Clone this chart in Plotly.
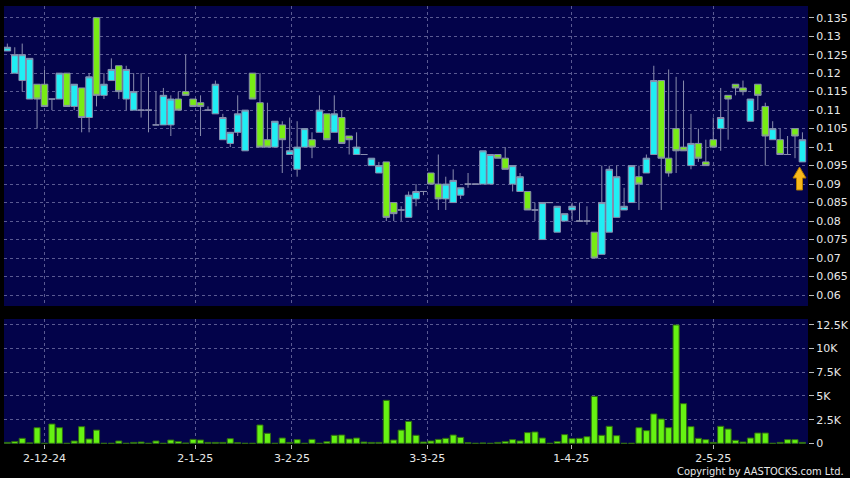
import plotly.graph_objects as go

# ---------------- data ----------------
open_ = [0.126, 0.120, 0.118, 0.113, 0.117, 0.117, 0.113, 0.113, 0.120, 0.111,
         0.116, 0.108, 0.135, 0.114, 0.118, 0.122, 0.113, 0.110, 0.110, 0.110,
         0.106, 0.106, 0.106, 0.113, 0.115, 0.113, 0.112, 0.110, 0.109, 0.102,
         0.101, 0.104, 0.099, 0.120, 0.112, 0.102, 0.100, 0.106, 0.098, 0.094,
         0.100, 0.102, 0.104, 0.109, 0.104, 0.108, 0.103, 0.098, 0.098, 0.095,
         0.093, 0.096, 0.085, 0.083, 0.081, 0.086, 0.088, 0.093, 0.090, 0.086,
         0.085, 0.087, 0.090, 0.090, 0.090, 0.090, 0.098, 0.097, 0.090, 0.088,
         0.088, 0.083, 0.075, 0.085, 0.077, 0.080, 0.083, 0.080, 0.080, 0.077,
         0.071, 0.077, 0.081, 0.083, 0.085, 0.092, 0.093, 0.098, 0.118, 0.097,
         0.105, 0.100, 0.095, 0.101, 0.096, 0.102, 0.105, 0.114, 0.117, 0.116,
         0.107, 0.117, 0.111, 0.102, 0.102, 0.098, 0.105, 0.096]
high = [0.128, 0.127, 0.128, 0.124, 0.117, 0.121, 0.113, 0.120, 0.120, 0.117,
        0.116, 0.120, 0.135, 0.120, 0.124, 0.122, 0.122, 0.120, 0.120, 0.119,
        0.115, 0.116, 0.114, 0.115, 0.125, 0.113, 0.114, 0.111, 0.118, 0.109,
        0.104, 0.114, 0.110, 0.120, 0.120, 0.112, 0.107, 0.107, 0.108, 0.107,
        0.105, 0.104, 0.114, 0.109, 0.114, 0.110, 0.103, 0.104, 0.098, 0.097,
        0.096, 0.096, 0.085, 0.084, 0.088, 0.090, 0.088, 0.093, 0.098, 0.092,
        0.094, 0.089, 0.093, 0.090, 0.099, 0.098, 0.098, 0.100, 0.095, 0.093,
        0.088, 0.085, 0.085, 0.085, 0.084, 0.082, 0.085, 0.085, 0.084, 0.077,
        0.095, 0.095, 0.095, 0.089, 0.095, 0.095, 0.098, 0.122, 0.118, 0.121,
        0.119, 0.118, 0.109, 0.105, 0.102, 0.108, 0.116, 0.114, 0.117, 0.118,
        0.113, 0.117, 0.112, 0.107, 0.105, 0.103, 0.105, 0.104]
low = [0.126, 0.120, 0.115, 0.113, 0.105, 0.111, 0.110, 0.113, 0.111, 0.110,
       0.104, 0.104, 0.111, 0.113, 0.118, 0.113, 0.110, 0.110, 0.108, 0.104,
       0.106, 0.106, 0.103, 0.110, 0.114, 0.111, 0.103, 0.110, 0.109, 0.102,
       0.100, 0.103, 0.099, 0.113, 0.100, 0.100, 0.100, 0.093, 0.098, 0.092,
       0.100, 0.097, 0.104, 0.102, 0.104, 0.101, 0.098, 0.098, 0.098, 0.095,
       0.093, 0.080, 0.080, 0.080, 0.081, 0.084, 0.087, 0.090, 0.083, 0.083,
       0.085, 0.086, 0.089, 0.090, 0.090, 0.090, 0.097, 0.094, 0.088, 0.088,
       0.083, 0.080, 0.075, 0.085, 0.077, 0.080, 0.080, 0.080, 0.079, 0.070,
       0.071, 0.077, 0.081, 0.083, 0.085, 0.083, 0.093, 0.098, 0.083, 0.092,
       0.093, 0.099, 0.094, 0.096, 0.095, 0.100, 0.099, 0.102, 0.114, 0.114,
       0.107, 0.110, 0.095, 0.102, 0.098, 0.098, 0.097, 0.096]
close = [0.127, 0.125, 0.125, 0.124, 0.113, 0.111, 0.113, 0.120, 0.111, 0.117,
         0.108, 0.119, 0.114, 0.117, 0.121, 0.115, 0.121, 0.115, 0.110, 0.110,
         0.106, 0.114, 0.113, 0.110, 0.114, 0.111, 0.111, 0.110, 0.117, 0.108,
         0.104, 0.109, 0.110, 0.113, 0.100, 0.100, 0.107, 0.102, 0.099, 0.100,
         0.105, 0.100, 0.110, 0.102, 0.109, 0.101, 0.102, 0.100, 0.098, 0.097,
         0.095, 0.081, 0.082, 0.083, 0.087, 0.088, 0.088, 0.090, 0.086, 0.090,
         0.091, 0.089, 0.090, 0.090, 0.099, 0.098, 0.097, 0.094, 0.095, 0.092,
         0.083, 0.083, 0.085, 0.085, 0.084, 0.082, 0.084, 0.080, 0.080, 0.070,
         0.085, 0.094, 0.092, 0.084, 0.095, 0.090, 0.097, 0.118, 0.097, 0.093,
         0.099, 0.099, 0.101, 0.097, 0.095, 0.100, 0.108, 0.113, 0.116, 0.115,
         0.113, 0.114, 0.103, 0.105, 0.098, 0.098, 0.103, 0.102]
volume = [100, 200, 530, 50, 1650, 0, 2040, 1650, 0, 250,
          1760, 460, 1400, 0, 0, 250, 0, 100, 140, 0,
          250, 0, 350, 200, 30, 420, 350, 100, 100, 100,
          490, 70, 0, 0, 1940, 1060, 0, 560, 100, 390,
          0, 420, 0, 180, 850, 880, 460, 560, 140, 100,
          100, 4540, 350, 1400, 2320, 850, 140, 250, 420, 530,
          880, 630, 70, 0, 40, 0, 100, 200, 390, 250,
          1130, 1200, 560, 0, 200, 920, 490, 530, 700, 4960,
          850, 1800, 810, 0, 0, 1650, 1340, 3100, 2570, 1650,
          12500, 4190, 1760, 530, 390, 100, 1800, 1510, 320, 140,
          560, 1090, 1090, 0, 100, 390, 390, 100]

date_tick_index = [5, 25.3, 38.3, 56.5, 75.9, 95]
date_tick_labels = ["2-12-24", "2-1-25", "3-2-25", "3-3-25", "1-4-25", "2-5-25"]
price_tick_vals = [0.06, 0.065, 0.07, 0.075, 0.08, 0.085, 0.09, 0.095, 0.1,
                   0.105, 0.11, 0.115, 0.12, 0.125, 0.13, 0.135]
price_tick_text = ["0.06", "0.065", "0.07", "0.075", "0.08", "0.085", "0.09", "0.095",
                   "0.1", "0.105", "0.11", "0.115", "0.12", "0.125", "0.13", "0.135"]
vol_tick_vals = [0, 2500, 5000, 7500, 10000, 12500]
vol_tick_text = ["0", "2.5K", "5K", "7.5K", "10K", "12.5K"]

# ---------------- layout geometry ----------------
W_FIG, H_FIG = 850, 478
M_L, M_R, M_T, M_B = 4, 42, 6, 34
PW = W_FIG - M_L - M_R
PH = H_FIG - M_T - M_B
BOTTOM = H_FIG - M_B


def fx(px):
    return (px - M_L) / PW


def fy(py):
    return (BOTTOM - py) / PH


idx = list(range(len(open_)))

BG = "#03034a"
GRID = "#5a5a92"
WICK = "#8a8eae"
CYAN = "#20eef4"
GREEN = "#78ec14"
TXT = "#e8e8e8"
FONT = "DejaVu Sans"
DASH = "3px,3px"

fig = go.Figure()
fig.add_trace(go.Candlestick(
    x=idx, open=open_, high=high, low=low, close=close,
    increasing=dict(fillcolor=CYAN, line=dict(color=WICK, width=1)),
    decreasing=dict(fillcolor=GREEN, line=dict(color=WICK, width=1)),
    whiskerwidth=0, xaxis="x", yaxis="y", showlegend=False, hoverinfo="skip",
))
fig.add_trace(go.Bar(
    x=idx, y=volume, marker=dict(color="#66f212", line=dict(color="#2f6a12", width=1)),
    xaxis="x2", yaxis="y2", showlegend=False, hoverinfo="skip",
))

x_range = [-0.45, 107.75]
common_x = dict(range=x_range, tickmode="array", tickvals=date_tick_index,
                showgrid=True, gridcolor=GRID, griddash=DASH, gridwidth=1,
                zeroline=False, showline=False, automargin=False)

fig.update_layout(
    width=W_FIG, height=H_FIG,
    margin=dict(l=M_L, r=M_R, t=M_T, b=M_B),
    paper_bgcolor="black", plot_bgcolor=BG,
    boxgap=0.12, boxgroupgap=0, bargap=0.18,
    font=dict(family=FONT, size=11, color=TXT),
    xaxis=dict(**common_x, domain=[0, 1], anchor="y", showticklabels=False,
               ticktext=date_tick_labels, rangeslider=dict(visible=False)),
    xaxis2=dict(**common_x, domain=[0, 1], anchor="y2", matches="x",
                ticktext=date_tick_labels, ticks="outside", ticklen=4,
                tickcolor="#bbbbbb", tickfont=dict(family=FONT, size=11, color=TXT)),
    yaxis=dict(domain=[fy(306), 1], side="right", range=[0.05703, 0.13816],
               tickmode="array", tickvals=price_tick_vals, ticktext=price_tick_text,
               ticks="outside", ticklen=5, tickcolor="#bbbbbb", automargin=False,
               showgrid=True, gridcolor=GRID, griddash=DASH, zeroline=False,
               tickfont=dict(family=FONT, size=11, color=TXT)),
    yaxis2=dict(domain=[0, fy(319)], side="right", range=[-70, 13130],
                tickmode="array", tickvals=vol_tick_vals, ticktext=vol_tick_text,
                ticks="outside", ticklen=5, tickcolor="#bbbbbb", automargin=False,
                showgrid=True, gridcolor=GRID, griddash=DASH, zeroline=False,
                tickfont=dict(family=FONT, size=11, color=TXT)),
)

# latest-price marker arrow (decoration)
ax0, ax1, axm = fx(793), fx(806), fx(799.5)
sx0, sx1 = fx(796.5), fx(802.5)
yh, yt, yb = fy(178), fy(167), fy(190)
arrow_path = (f"M {sx0} {yb} L {sx0} {yh} L {ax0} {yh} L {axm} {yt} "
              f"L {ax1} {yh} L {sx1} {yh} L {sx1} {yb} Z")
fig.add_shape(type="path", path=arrow_path, xref="paper", yref="paper",
              fillcolor="#f7b81c", line=dict(color="#b07a00", width=1))

fig.add_annotation(text="Copyright by AASTOCKS.com Ltd.", xref="paper", yref="paper",
                   x=fx(846), y=fy(471), xanchor="right", yanchor="middle",
                   showarrow=False,
                   font=dict(family="DejaVu Sans Condensed, Liberation Sans Narrow, Liberation Sans",
                             size=11, color=TXT))

fig.write_html("out.html", config={"displayModeBar": False},
               post_script="document.body.style.margin='0';document.body.style.padding='0';"
                           "document.body.style.overflow='hidden';")
